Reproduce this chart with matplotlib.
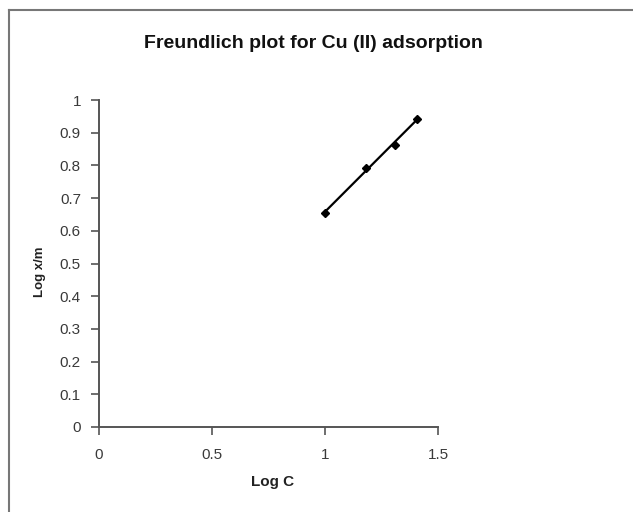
import numpy as np
import matplotlib
matplotlib.use("Agg")
import matplotlib.pyplot as plt
from matplotlib.lines import Line2D

log_c = [1.0, 1.18, 1.31, 1.405]
log_xm = [0.655, 0.793, 0.862, 0.942]
x_ticks = [0, 0.5, 1, 1.5]
x_tick_labels = ["0", "0.5", "1", "1.5"]
y_ticks = [0, 0.1, 0.2, 0.3, 0.4, 0.5, 0.6, 0.7, 0.8, 0.9, 1.0]
y_tick_labels = ["0", "0.1", "0.2", "0.3", "0.4", "0.5", "0.6", "0.7", "0.8", "0.9", "1"]
title = "Freundlich plot for Cu (II) adsorption"
xlabel = "Log C"
ylabel = "Log x/m"

plt.rcParams['font.family'] = ['Liberation Sans', 'DejaVu Sans']

W, H = 633, 512
fig = plt.figure(figsize=(W / 100, H / 100), dpi=100)
ax = fig.add_axes([99 / W, 1 - 427 / H, (438 - 99) / W, (427 - 100) / H])

# trendline (linear fit)
coef = np.polyfit(log_c, log_xm, 1)
xs = np.array([min(log_c), max(log_c)])
ax.plot(xs, np.polyval(coef, xs), color="black", lw=1.6, zorder=2)
ax.plot(log_c, log_xm, linestyle="none", marker="D", markersize=3.8,
        color="black", zorder=3)

ax.set_xlim(0, 1.5)
ax.set_ylim(0, 1)
ax.set_xticks(x_ticks)
ax.set_xticklabels(x_tick_labels)
ax.set_yticks(y_ticks)
ax.set_yticklabels(y_tick_labels)

spine_col = "#555555"
for s in ["top", "right"]:
    ax.spines[s].set_visible(False)
for s in ["left", "bottom"]:
    ax.spines[s].set_color(spine_col)
    ax.spines[s].set_linewidth(1.4)
ax.tick_params(axis="both", direction="out", length=6, width=1.2, color=spine_col,
               labelsize=11, labelcolor="#3a3a3a")
ax.tick_params(axis="x", pad=9)
ax.tick_params(axis="y", pad=7)

fig.text(313 / W, 1 - 43 / H, title, ha="center", va="center",
         fontsize=14, fontweight="bold", color="#111111")
fig.text(273 / W, 1 - 482 / H, xlabel, ha="center", va="center",
         fontsize=11, fontweight="bold", color="#222222")
fig.text(40 / W, 1 - 272 / H, ylabel, ha="center", va="center", rotation=90,
         fontsize=9.5, fontweight="bold", color="#222222")

# chart area border (top and left visible)
fig.add_artist(Line2D([8.5 / W, 8.5 / W], [0, 1 - 10 / H], transform=fig.transFigure,
                      color="#777777", lw=1.5))
fig.add_artist(Line2D([8.5 / W, 1], [1 - 10 / H, 1 - 10 / H], transform=fig.transFigure,
                      color="#777777", lw=1.5))

fig.savefig("out.png", dpi=100)
